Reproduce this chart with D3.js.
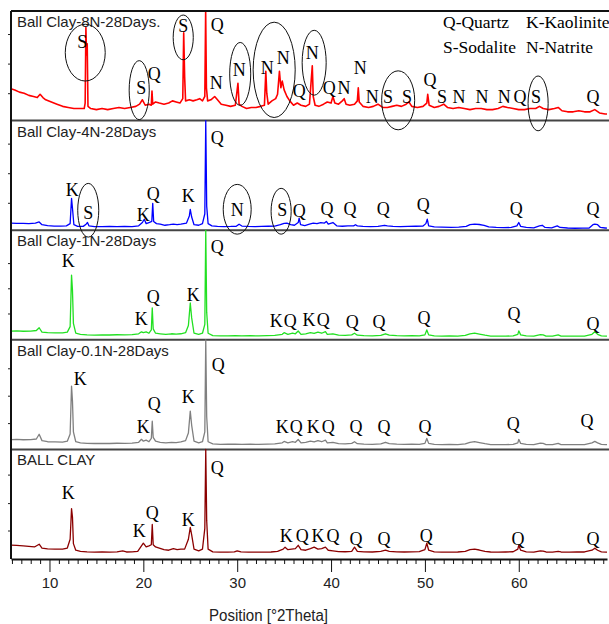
<!DOCTYPE html>
<html>
<head>
<meta charset="utf-8">
<script src="https://cdn.jsdelivr.net/npm/d3@7"></script>
<style>
  body { margin: 0; background: #fff; }
  .title { font-family: "Liberation Sans", Arial, sans-serif; font-size: 15px; fill: #222; }
  .mark { font-family: "Liberation Serif", "Times New Roman", serif; font-size: 18px; fill: #000; text-anchor: middle; }
  .legend { font-family: "Liberation Serif", "Times New Roman", serif; font-size: 17.5px; fill: #000; }
  .xaxis text { font-family: "Liberation Sans", Arial, sans-serif; font-size: 15px; fill: #222; }
  .xlabel { font-family: "Liberation Sans", Arial, sans-serif; font-size: 16px; fill: #222; }
</style>
</head>
<body>
<div id="chart"></div>
<script>
// x range of the scan, in degrees 2theta
var thetaRange = [5.9, 69.4];
var majorTicks = [10, 20, 30, 40, 50, 60];

var panelNames = ["Ball Clay-8N-28Days.", "Ball Clay-4N-28Days", "Ball Clay-1N-28Days", "Ball Clay-0.1N-28Days", "BALL CLAY"];
var panelColors = ["#ff0000", "#0000ff", "#22e022", "#808080", "#8b0000"];

var legendItems = ["Q-Quartz", "K-Kaolinite", "S-Sodalite", "N-Natrite"];

// scans: [2theta, relative intensity 0-100 of panel height]
var scan8N = [[5.9,29],[6.3,28],[6.8,26],[7.3,25],[7.8,23],[8.3,22],[8.7,21],[9.0,24],[9.3,21],[9.6,19],[10.2,17],[10.8,15],[11.4,13],[12.0,12],[12.6,11],[13.2,11],[13.7,11],[13.8,16],[13.88,85],[13.95,60],[14.02,70],[14.1,13],[14.4,11],[15.0,10],[15.6,11],[16.2,10],[16.8,11],[17.4,12],[18.0,11],[18.6,12],[19.2,13],[19.6,15],[19.9,19],[20.2,14],[20.6,15],[20.85,14],[20.92,27],[21.0,15],[21.3,17],[21.7,16],[22.2,15],[22.7,16],[23.1,18],[23.5,17],[23.9,16],[24.2,20],[24.3,80],[24.4,40],[24.5,18],[24.9,19],[25.3,18],[25.7,19],[26.0,20],[26.3,18],[26.55,22],[26.64,100],[26.72,30],[26.85,18],[27.2,19],[27.6,22],[27.9,19],[28.3,15],[28.8,14],[29.3,13],[29.8,14],[30.08,34],[30.2,15],[30.5,13],[31.0,11],[31.5,12],[32.0,12],[32.5,13],[32.9,14],[33.05,45],[33.15,25],[33.3,15],[33.7,18],[34.1,20],[34.3,24],[34.5,45],[34.65,30],[34.8,36],[35.0,28],[35.3,22],[35.6,18],[36.0,14],[36.4,16],[36.8,14],[37.3,13],[37.7,15],[38.0,50],[38.1,22],[38.3,14],[38.7,13],[39.2,15],[39.6,17],[40.0,16],[40.2,22],[40.4,16],[40.8,15],[41.2,18],[41.4,20],[41.6,15],[42.0,14],[42.5,15],[42.8,18],[42.9,30],[43.0,17],[43.4,13],[44.0,12],[44.5,13],[45.0,15],[45.5,12],[46.0,12],[46.5,13],[47.0,14],[47.5,13],[48.0,15],[48.3,17],[48.6,13],[49.2,12],[49.8,13],[50.2,16],[50.3,24],[50.45,14],[51.0,12],[51.5,13],[52.0,15],[52.4,12],[53.0,11],[53.6,12],[54.2,11],[54.8,10],[55.4,11],[56.0,11],[56.6,10],[57.2,10],[57.8,11],[58.3,13],[58.8,12],[59.4,11],[60.0,10],[60.6,10],[61.2,11],[61.8,11],[62.2,13],[62.6,11],[63.2,10],[63.8,11],[64.2,12],[64.6,9],[65.2,8],[65.8,8],[66.4,9],[67.0,8],[67.6,8],[68.1,10],[68.6,7],[69.2,6],[69.4,6]];

var scan4N = [[5.9,6.4],[6.5,6.2],[7.2,6.3],[7.8,6],[8.5,6.4],[8.9,7.5],[9.2,5],[9.8,4.2],[10.5,3.8],[11.2,3.7],[11.8,4],[12.2,6],[12.35,29],[12.45,20],[12.6,5],[13.0,3.5],[13.6,3.5],[13.9,5.5],[14.05,7],[14.2,4],[14.8,3.3],[15.6,3.2],[16.4,3.4],[17.2,3.2],[18.0,3.5],[18.8,3.3],[19.5,4],[19.9,7],[20.1,10],[20.3,6],[20.6,7],[20.9,8],[21.0,24.5],[21.1,8],[21.4,6],[21.8,5.5],[22.3,4.5],[22.8,5],[23.2,5.5],[23.6,5],[24.0,5.5],[24.6,6.5],[24.9,13],[25.0,19],[25.15,12],[25.4,5],[25.9,4.5],[26.3,6],[26.55,15],[26.65,100],[26.75,22],[26.9,6],[27.3,4],[27.9,3.5],[28.6,3.3],[29.3,3.4],[29.9,3.6],[30.2,5.5],[30.5,3.8],[31.2,3.4],[31.9,3.3],[32.6,3.5],[33.3,3.6],[34.0,3.8],[34.6,5],[35.0,6.2],[35.3,6.4],[35.7,5],[36.1,4.5],[36.5,7],[36.6,11],[36.75,5],[37.2,4.2],[37.7,5.5],[38.1,6.5],[38.5,6],[38.9,7],[39.3,6.5],[39.5,8],[39.7,5.5],[40.2,7],[40.6,4],[41.2,3.6],[41.8,4],[42.4,4],[42.6,5],[42.8,4],[43.4,3.5],[44.2,3.3],[45.0,3.5],[45.7,4.5],[46.0,4],[46.6,3.5],[47.4,3.2],[48.2,3.4],[49.0,3.6],[49.8,3.8],[50.1,6],[50.25,10],[50.4,4],[51.0,3],[51.8,2.8],[52.8,2.6],[53.6,2.8],[54.4,3.5],[54.8,5],[55.3,5.5],[55.8,5.2],[56.3,4.5],[56.8,3],[57.6,2.5],[58.4,2.3],[59.2,2.5],[59.8,4],[60.0,7],[60.2,3.5],[60.8,2.5],[61.6,2.2],[62.2,4],[62.5,4.5],[62.8,2.5],[63.5,2.2],[64.1,4],[64.4,2.5],[65.2,2],[66.0,1.8],[66.8,1.9],[67.5,2],[67.9,5],[68.1,5.5],[68.4,5],[68.7,2.5],[69.2,2],[69.4,1.8]];

var scan1N = [[5.9,8],[6.5,8.2],[7.2,7.8],[8.0,8],[8.6,8.5],[8.9,11],[9.2,7],[9.8,6.5],[10.6,6.3],[11.4,6.4],[11.9,7],[12.2,12],[12.35,59],[12.45,45],[12.55,15],[12.8,6],[13.3,5],[14.0,4.5],[14.8,4.3],[15.6,4.5],[16.4,4.4],[17.2,4.6],[18.0,4.5],[18.8,4.8],[19.5,5.5],[19.8,7.3],[20.0,6.5],[20.3,7.3],[20.6,6],[20.85,9],[20.95,29],[21.05,10],[21.3,6],[21.8,5.5],[22.4,5],[23.0,5.5],[23.5,5.2],[24.0,5.5],[24.5,6.5],[24.8,13],[25.0,33.6],[25.15,20],[25.4,6],[25.9,5],[26.3,6],[26.55,14],[26.65,100],[26.75,25],[26.9,6],[27.4,3.8],[28.2,3.6],[29.0,3.6],[29.8,3.8],[30.5,3.6],[31.4,3.7],[32.3,3.6],[33.2,3.8],[34.0,4],[34.8,5],[35.0,6.5],[35.4,5],[35.9,6],[36.2,5.5],[36.5,8],[36.8,5],[37.3,5.5],[37.8,6.5],[38.2,5.8],[38.6,7],[39.0,6],[39.4,7.5],[39.6,5],[40.2,5.5],[40.8,4.2],[41.5,4],[42.2,4.5],[42.5,6],[42.8,4.2],[43.5,3.8],[44.4,3.6],[45.3,4],[45.8,5.5],[46.2,4.2],[47.0,3.8],[47.8,3.6],[48.6,3.8],[49.4,3.6],[50.0,4.5],[50.2,9],[50.4,4.5],[51.0,3.6],[51.8,3.4],[52.6,3.5],[53.5,3.4],[54.3,4],[54.8,5.5],[55.3,6],[55.8,5.2],[56.4,4.2],[57.0,3.4],[57.8,3.3],[58.6,3.4],[59.4,3.5],[59.9,5],[60.0,8.2],[60.2,4.5],[60.8,3.5],[61.6,3.4],[62.3,4.8],[62.6,4.5],[62.9,3.4],[63.6,3.3],[64.2,4.5],[64.5,3.4],[65.4,3.3],[66.2,3.4],[67.0,3.3],[67.8,5],[68.1,7.3],[68.4,5],[68.8,3.6],[69.3,3.4],[69.4,3.3]];

var scan01N = [[5.9,9],[6.5,9.2],[7.2,8.8],[8.0,9],[8.6,9.5],[8.9,13.8],[9.2,8],[9.8,7],[10.6,6.8],[11.4,6.6],[11.9,7.5],[12.2,14],[12.35,57.8],[12.45,44],[12.55,16],[12.8,7],[13.3,6],[14.0,5.5],[14.8,5.4],[15.6,5.5],[16.4,5.4],[17.2,5.6],[18.0,5.5],[18.8,5.8],[19.5,6.5],[19.8,9.2],[20.0,7.5],[20.3,8.5],[20.6,7],[20.85,10],[20.95,25.7],[21.05,11],[21.3,7.5],[21.8,6.5],[22.4,6],[23.0,6.5],[23.5,6.2],[24.0,6.8],[24.5,8],[24.8,15],[25.0,34.9],[25.15,22],[25.4,7.5],[25.9,6],[26.3,7],[26.55,16],[26.65,100],[26.75,30],[26.9,7],[27.4,5],[28.2,4.6],[29.0,4.7],[29.8,4.8],[30.5,4.6],[31.4,4.7],[32.3,4.6],[33.2,4.8],[34.0,5],[34.8,6],[35.0,7.3],[35.4,6],[35.9,7],[36.2,6.5],[36.5,9],[36.8,6],[37.3,6.5],[37.8,7.5],[38.2,6.8],[38.6,8],[39.0,7],[39.4,8.5],[39.6,6],[40.2,6.5],[40.8,5.2],[41.5,5],[42.2,5.5],[42.5,7],[42.8,5.2],[43.5,4.8],[44.4,4.6],[45.3,5],[45.8,6.5],[46.2,5.2],[47.0,4.8],[47.8,4.6],[48.6,4.8],[49.4,4.6],[50.0,5.5],[50.2,10],[50.4,5.5],[51.0,4.6],[51.8,4.4],[52.6,4.5],[53.5,4.4],[54.3,5],[54.8,6.5],[55.3,7],[55.8,6.2],[56.4,5.2],[57.0,4.4],[57.8,4.3],[58.6,4.4],[59.4,4.5],[59.9,6],[60.0,9.2],[60.2,5.5],[60.8,4.5],[61.6,4.4],[62.3,5.8],[62.6,5.5],[62.9,4.4],[63.6,4.3],[64.2,5.5],[64.5,4.4],[65.4,4.3],[66.2,4.4],[67.0,4.3],[67.8,6],[68.1,7.3],[68.4,6],[68.8,4.6],[69.3,4.4],[69.4,4.3]];

var scanBall = [[5.9,12.6],[6.5,12.4],[7.2,12],[7.8,11.5],[8.4,11],[8.9,13.5],[9.2,10],[9.8,9.2],[10.6,9],[11.4,9],[11.9,10],[12.2,18],[12.35,46],[12.45,38],[12.55,14],[12.8,8],[13.3,7],[14.0,6.5],[14.8,6.3],[15.6,6.4],[16.4,6.3],[17.2,6.5],[17.8,7.5],[18.2,6.4],[18.8,6.5],[19.4,7],[19.8,12],[20.0,14.4],[20.3,11],[20.6,12],[20.85,13],[20.95,31.5],[21.05,13],[21.3,11],[21.7,9.9],[22.2,8.5],[22.7,8],[23.2,9.5],[23.6,8.5],[24.0,9],[24.4,9],[24.8,18],[25.0,28.8],[25.15,22],[25.4,9],[25.9,7.5],[26.3,9],[26.55,28],[26.65,100],[26.75,35],[26.9,9],[27.4,6.5],[28.2,6.3],[29.0,6.3],[29.7,6.5],[30.0,7.5],[30.4,6.5],[31.2,6.3],[32.0,6.2],[32.8,6.3],[33.6,6.4],[34.3,7],[34.9,9],[35.1,10.8],[35.4,8.5],[35.8,9],[36.2,9.5],[36.5,12.5],[36.8,8.5],[37.3,8],[37.8,9.5],[38.2,10.8],[38.6,9],[39.0,9.5],[39.4,10.8],[39.7,8],[40.2,7.5],[40.8,6.8],[41.5,6.6],[42.2,7],[42.5,10.8],[42.8,7],[43.5,6.5],[44.4,6.4],[45.3,7],[45.8,8.1],[46.2,7],[47.0,6.5],[47.8,6.4],[48.6,6.5],[49.4,6.8],[50.0,8.5],[50.2,14.4],[50.4,8],[51.0,6.5],[51.8,6.3],[52.6,6.3],[53.5,6.4],[54.3,7],[54.8,8.5],[55.3,9],[55.8,8.2],[56.4,7],[57.0,6.4],[57.8,6.3],[58.6,6.4],[59.4,6.6],[59.9,9],[60.0,12.6],[60.2,8],[60.8,6.5],[61.6,6.3],[62.3,7.5],[62.6,7.2],[62.9,6.4],[63.6,6.3],[64.2,7],[64.5,6.4],[65.4,6.3],[66.2,6.4],[67.0,6.4],[67.8,8],[68.1,9.9],[68.4,8],[68.8,6.5],[69.3,6.3],[69.4,6.3]];

// phase labels: [2theta, level, letter]
var labels8N = [[13.48,66,"S"],[19.77,24,"S"],[21.15,37,"Q"],[24.25,80.5,"S"],[27.87,81.5,"Q"],[27.76,28.7,"N"],[30.21,40.7,"N"],[33.19,42.6,"N"],[34.9,51.9,"N"],[36.6,21.3,"Q"],[37.99,56.5,"N"],[39.8,24,"Q"],[41.39,24,"N"],[43.1,42.6,"N"],[44.38,15.7,"N"],[46.08,15.7,"S"],[48.1,15.7,"S"],[50.55,31.5,"Q"],[51.83,15.7,"S"],[53.64,15.7,"N"],[56.09,15.7,"N"],[58.44,15.7,"N"],[60.14,15.7,"Q"],[61.84,15.7,"S"],[67.92,15.7,"Q"]];
var labels4N = [[27.87,79,"Q"],[12.42,31,"K"],[14.13,10,"S"],[19.98,8.2,"K"],[21.05,28,"Q"],[24.78,25.5,"K"],[30.0,12.7,"N"],[34.79,12.7,"S"],[36.6,11.8,"Q"],[39.58,13.6,"Q"],[42.03,13.6,"Q"],[45.55,13.6,"Q"],[49.81,17.3,"Q"],[59.72,13.6,"Q"],[67.92,13.6,"Q"]];
var labels1N = [[27.87,79,"Q"],[12.0,66.4,"K"],[19.77,13.6,"K"],[21.05,33.6,"Q"],[25.31,35.5,"K"],[34.15,11.8,"K"],[35.64,11.8,"Q"],[37.66,12.7,"K"],[39.16,12.7,"Q"],[42.25,11,"Q"],[45.12,11,"Q"],[49.91,14.5,"Q"],[59.5,18.2,"Q"],[67.92,9,"Q"]];
var labels01N = [[13.27,58.7,"K"],[27.98,71.6,"Q"],[19.98,14.7,"K"],[21.15,35.8,"Q"],[24.78,42.2,"K"],[34.79,14.7,"K"],[36.28,14.7,"Q"],[38.09,14.7,"K"],[39.69,14.7,"Q"],[42.67,14.7,"Q"],[45.65,14.7,"Q"],[50.02,14.7,"Q"],[59.4,17.4,"Q"],[67.28,20.2,"Q"]];
var labelsBall = [[27.87,77.5,"Q"],[12.0,55,"K"],[19.56,19.8,"K"],[20.94,36.9,"Q"],[24.78,29.7,"K"],[35.22,15.3,"K"],[36.92,15.3,"Q"],[38.62,15.3,"K"],[40.22,15.3,"Q"],[42.67,12.6,"Q"],[45.65,12.6,"Q"],[50.13,15.3,"Q"],[59.93,12.6,"Q"],[67.92,12.6,"Q"]];

// circled peaks: [2theta, level, half width (deg), half height (level)]
var rings8N = [[13.81,62,2.13,25.9],[19.56,27.8,1.07,26.9],[24.25,75.9,1.07,20.4],[30.32,42.6,1.12,28.7],[33.94,46.3,2.24,43.5],[38.2,52.8,1.28,29.6],[47.15,18.5,1.76,26.9],[62.06,15.7,1.07,25]];
var rings4N = [[14.13,18.2,1.12,24.5],[30.0,19.1,1.49,22.7],[34.68,17.3,1.07,20.9]];

// little ticks on the left side of each panel
var sideTicks = [[25, 52, 79], [25, 52, 79], [24, 47, 70], [24, 49, 74], [26, 51, 77]];

var scans = [scan8N, scan4N, scan1N, scan01N, scanBall];
var labels = [labels8N, labels4N, labels1N, labels01N, labelsBall];
var rings = [rings8N, rings4N, [], [], []];

var W = 609, H = 624;
var margin = {top: 11, right: 2, bottom: 65, left: 11};
var plotH = H - margin.top - margin.bottom;
var panelH = plotH / panelNames.length;

var svg = d3.select("#chart")
  .append("svg")
    .attr("width", W)
    .attr("height", H);

var x = d3.scaleLinear()
  .domain(thetaRange)
  .range([margin.left, W - margin.right]);

panelNames.forEach(function(name, i) {
  var top = margin.top + i * panelH,
      bottom = top + panelH;
  var y = d3.scaleLinear().domain([0, 100]).range([bottom, top]);

  var line = d3.line()
    .x(function(d) { return x(d[0]); })
    .y(function(d) { return y(d[1]); });

  svg.append("path")
    .datum(scans[i])
    .attr("fill", "none")
    .attr("stroke", panelColors[i])
    .attr("stroke-width", i == 0 ? 1.6 : 1.3)
    .attr("stroke-linejoin", "round")
    .attr("d", line);

  // left ticks (no labels)
  var ax = svg.append("g")
    .attr("transform", "translate(" + margin.left + ",0)")
    .call(d3.axisLeft(y).tickValues(sideTicks[i]).tickSize(3).tickFormat(""));
  ax.select(".domain").remove();
  ax.selectAll("line").attr("stroke", "#222");

  // separator under panel (the last one is the x axis)
  if (i < panelNames.length - 1) {
    svg.append("line")
      .attr("x1", margin.left).attr("x2", W)
      .attr("y1", bottom).attr("y2", bottom)
      .attr("stroke", "#444")
      .attr("stroke-width", 2);
  }

  svg.append("text")
    .attr("class", "title")
    .attr("x", margin.left + 6)
    .attr("y", top + 16)
    .text(name);

  svg.selectAll(null)
    .data(rings[i])
    .enter()
    .append("ellipse")
      .attr("cx", function(d) { return x(d[0]); })
      .attr("cy", function(d) { return y(d[1]); })
      .attr("rx", function(d) { return x(d[0] + d[2]) - x(d[0]); })
      .attr("ry", function(d) { return y(0) - y(d[3]); })
      .attr("fill", "none")
      .attr("stroke", "#111")
      .attr("stroke-width", 1);

  svg.selectAll(null)
    .data(labels[i])
    .enter()
    .append("text")
      .attr("class", "mark")
      .attr("x", function(d) { return x(d[0]); })
      .attr("y", function(d) { return y(d[1]); })
      .text(function(d) { return d[2]; });
});

// top frame line and left axis
svg.append("line")
  .attr("x1", margin.left).attr("x2", W)
  .attr("y1", margin.top).attr("y2", margin.top)
  .attr("stroke", "#111").attr("stroke-width", 2);
svg.append("line")
  .attr("x1", margin.left).attr("x2", margin.left)
  .attr("y1", margin.top).attr("y2", H - margin.bottom)
  .attr("stroke", "#111").attr("stroke-width", 2);

// x axis: minor ticks every degree, major every 10
var baseY = H - margin.bottom;
var minor = d3.range(Math.ceil(thetaRange[0]), Math.floor(thetaRange[1]) + 1).filter(function(v) { return v % 10 != 0; });
svg.append("g")
  .attr("transform", "translate(0," + baseY + ")")
  .call(d3.axisBottom(x).tickValues(minor).tickSize(5).tickFormat(""))
  .call(function(g) { g.select(".domain").remove(); g.selectAll("line").attr("stroke", "#111"); });

var xa = svg.append("g")
  .attr("class", "xaxis")
  .attr("transform", "translate(0," + baseY + ")")
  .call(d3.axisBottom(x).tickValues(majorTicks).tickSize(13).tickPadding(5).tickSizeOuter(0));
xa.select(".domain").attr("stroke", "#111").attr("stroke-width", 2);
xa.selectAll("line").attr("stroke", "#111");
xa.selectAll("text").style("font-size", "15px");

svg.append("text")
  .attr("class", "xlabel")
  .attr("x", 209)
  .attr("y", H - 3)
  .attr("textLength", 119)
  .attr("lengthAdjust", "spacingAndGlyphs")
  .text("Position [°2Theta]");

// legend block, top right
svg.selectAll(null)
  .data(legendItems)
  .enter()
  .append("text")
    .attr("class", "legend")
    .attr("x", function(d, k) { return k % 2 == 0 ? 443 : 526; })
    .attr("y", function(d, k) { return k < 2 ? 28 : 53; })
    .text(function(d) { return d; });
</script>
</body>
</html>
